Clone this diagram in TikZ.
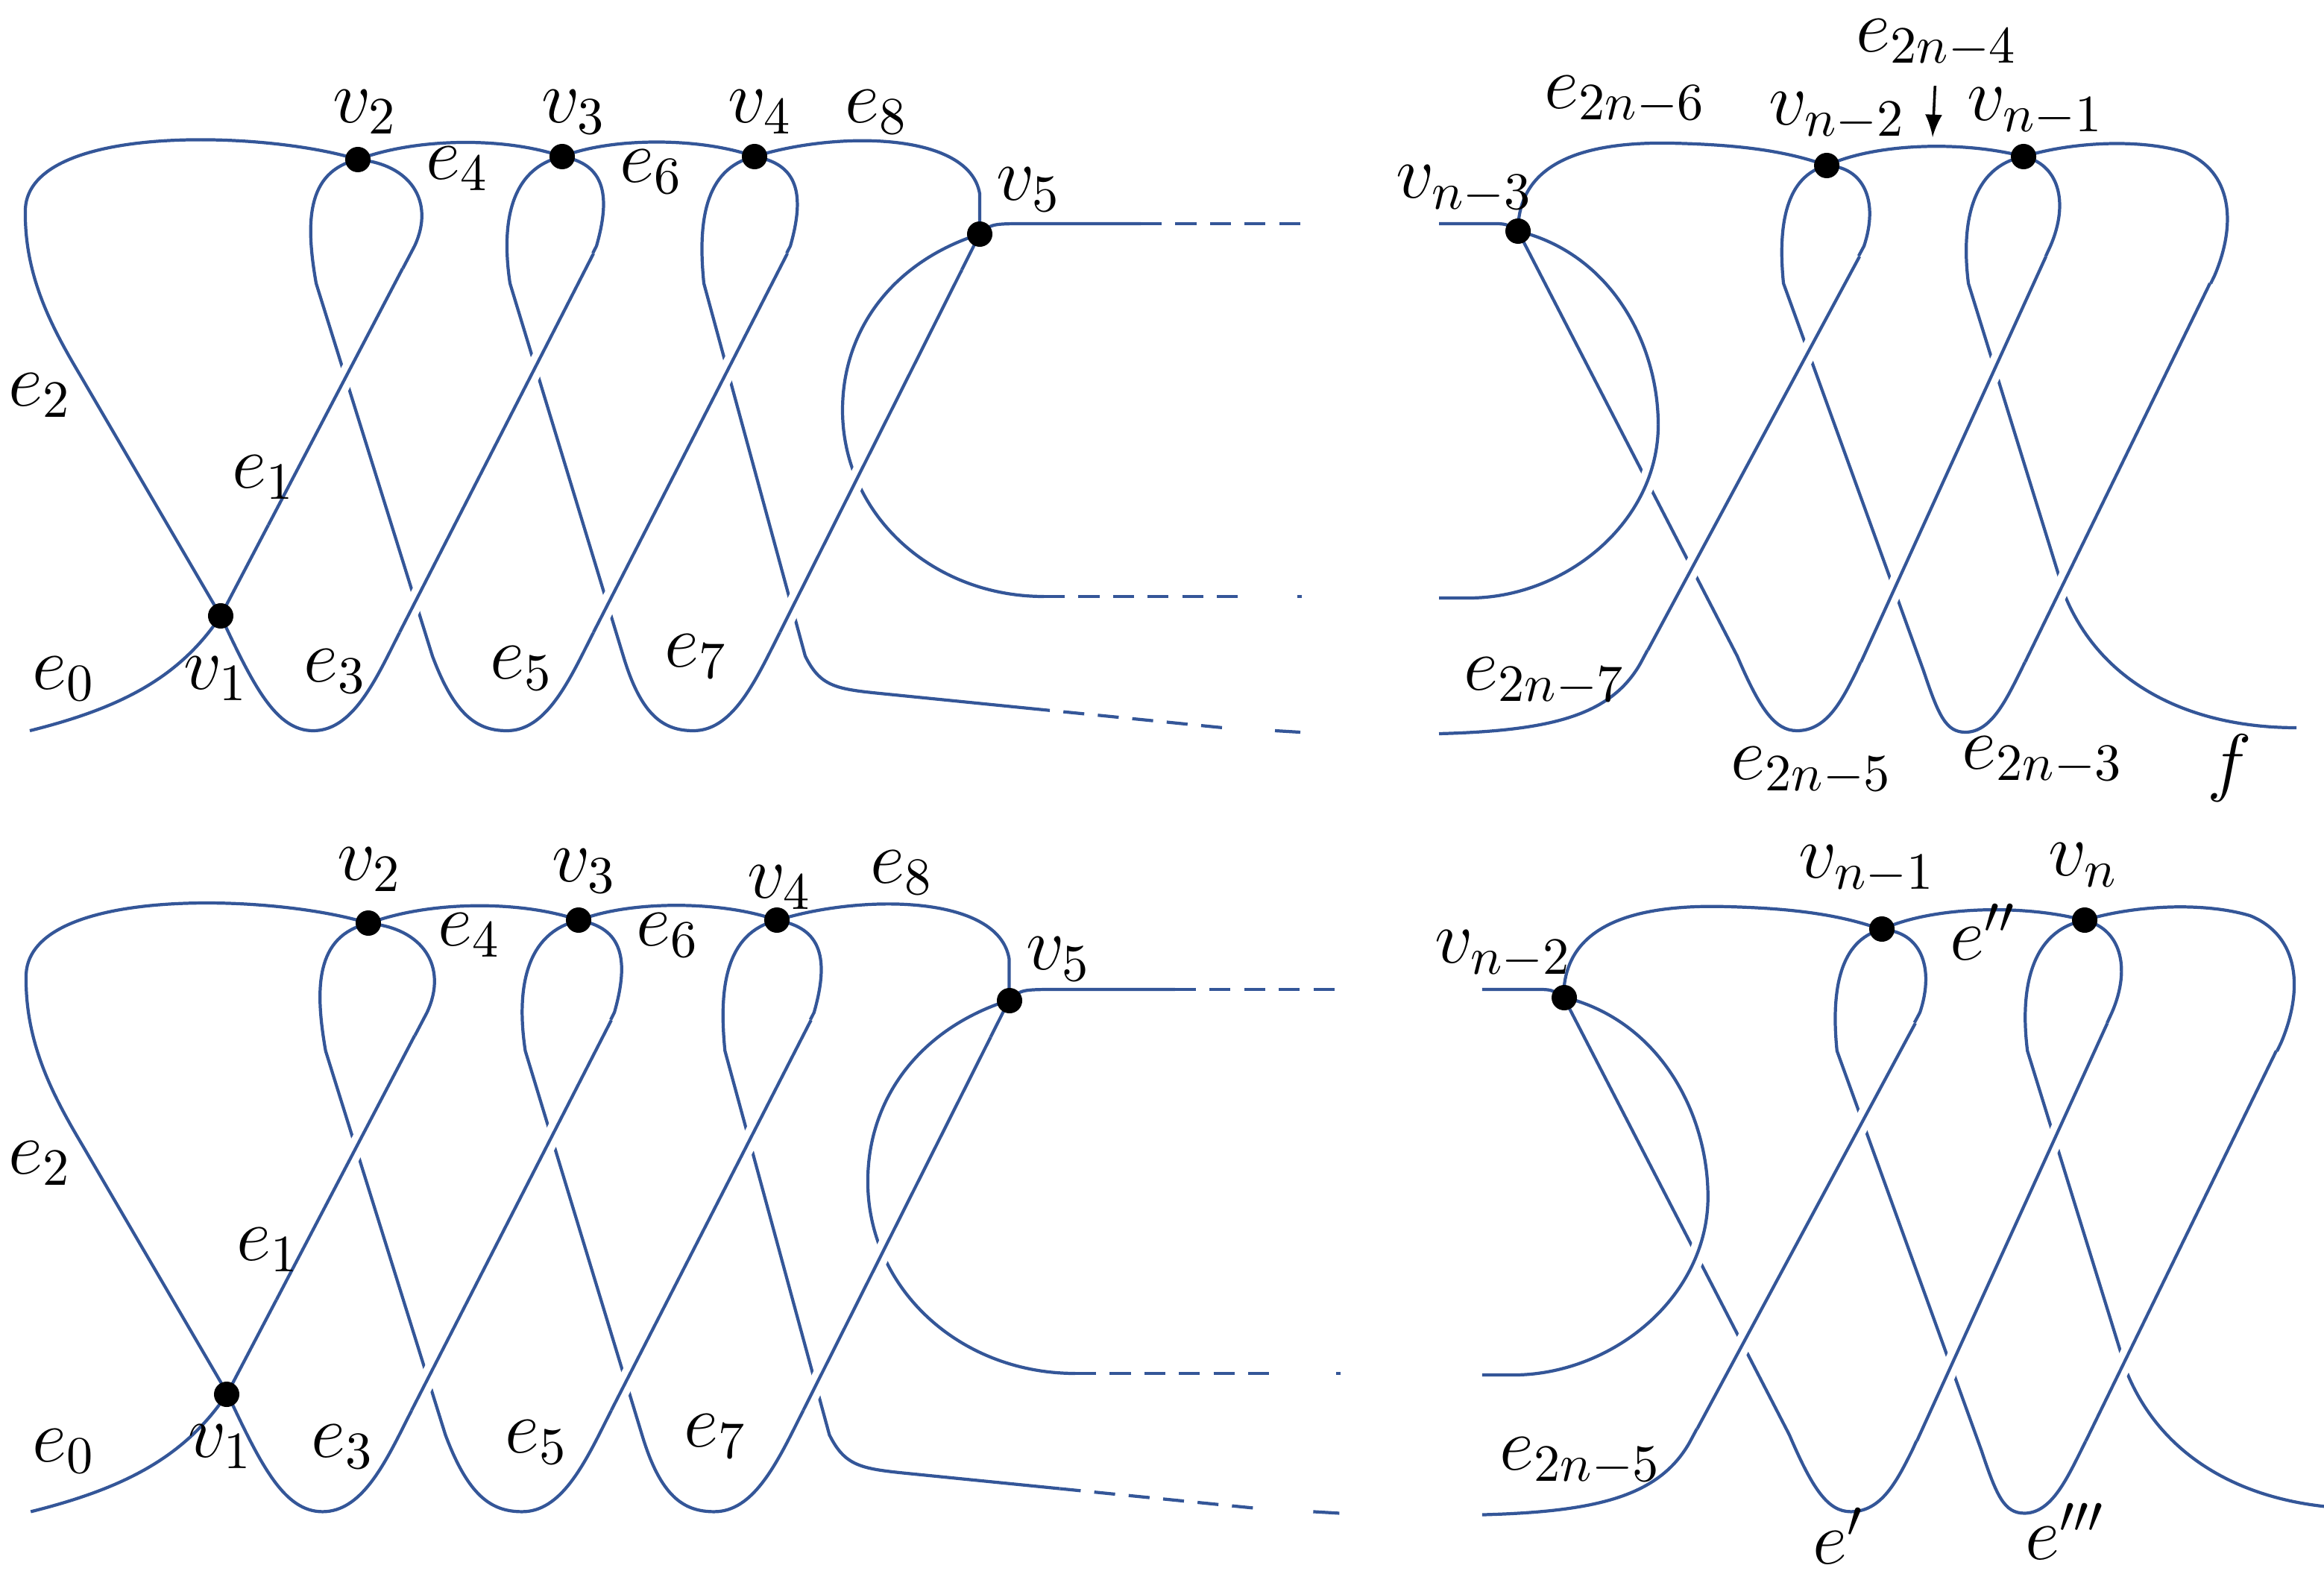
\documentclass[tikz,border=0pt]{standalone}
\usepackage{amsmath}
\usepackage{tikz}
\definecolor{knotblue}{RGB}{52,86,152}
\tikzset{
  strand/.style={knotblue,line width=0.6pt},
  over/.style={strand,preaction={draw,white,line width=3.2pt}},
  dashstrand/.style={strand,dash pattern=on 4pt off 2.6pt},
  vtx/.style={circle,fill=black,inner sep=0pt,minimum size=0.17cm},
  lab/.style={font=\Large}
}
% left half of the diagram, in 1/100 cm units
\newcommand{\leftknot}{%
\draw[strand] (20,490) .. controls (80,475) and (120,455) .. (148,413) -- (278,165)
   .. controls (292,135) and (275,110) .. (240,107); %% e0 e1
\draw[strand] (240,107) .. controls (180,88) and (20,82) .. (17,140)
   .. controls (16,185) and (35,220) .. (54,252) -- (148,413); %% e2
\draw[strand] (148,413) .. controls (170,460) and (185,490) .. (210,490)
   .. controls (235,490) and (250,460) .. (265,430) -- (400,165)
   .. controls (410,130) and (405,110) .. (377,105); %% e3
\draw[strand] (377,105) .. controls (340,92) and (280,92) .. (240,107); %% e4
\draw[strand] (240,107) .. controls (205,115) and (205,150) .. (212,190) -- (290,440)
   .. controls (305,480) and (320,490) .. (340,490)
   .. controls (365,490) and (380,460) .. (395,430) -- (530,165)
   .. controls (540,130) and (535,110) .. (506,105); %% e5
\draw[strand] (506,105) .. controls (470,92) and (410,92) .. (377,105); %% e6
\draw[strand] (377,105) .. controls (342,113) and (336,150) .. (342,190) -- (418,440)
   .. controls (430,480) and (445,490) .. (465,490)
   .. controls (490,490) and (505,460) .. (520,430) -- (657,157); %% e7
\draw[strand] (506,105) .. controls (560,88) and (650,88) .. (657,130) -- (657,157); %% e8
\draw[strand] (506,105) .. controls (472,113) and (468,150) .. (472,190) -- (540,440)
   .. controls (550,460) and (560,462) .. (590,465) -- (690,475);
\draw[dashstrand] (690,475) -- (820,488);
\draw[strand] (855,490) -- (872,491);
\draw[strand] (657,157) .. controls (600,175) and (565,220) .. (565,275)
   .. controls (565,345) and (625,400) .. (700,400); %% circle
\draw[dashstrand] (700,400) -- (830,400);
\draw[strand] (870,400) -- (873,400);
\draw[strand] (657,157) .. controls (665,150) .. (690,150) -- (765,150);
\draw[dashstrand] (765,150) -- (872,150);
%% crossings
\draw[over] (180,352) -- (270,180);
\draw[over] (268,424) -- (398,170);
\draw[over] (398,424) -- (528,170);
\draw[over] (523,424) -- (645,181);
}
% right half of the diagram
\newcommand{\rightknot}{%
\draw[strand] (965,150) -- (1000,150) .. controls (1010,150) .. (1018,155);
\draw[strand] (1018,155) .. controls (1018,110) and (1060,95) .. (1120,96)
   .. controls (1170,97) and (1200,102) .. (1225,111);
\draw[strand] (1018,155) -- (1165,440) .. controls (1180,475) and (1190,490) .. (1205,490)
   .. controls (1225,490) and (1235,470) .. (1245,450) -- (1375,165)
   .. controls (1388,135) and (1380,110) .. (1357,105);
\draw[strand] (965,492) .. controls (1040,490) and (1080,480) .. (1100,445) -- (1250,165)
   .. controls (1260,135) and (1250,112) .. (1225,111);
\draw[strand] (1225,111) .. controls (1198,118) and (1192,150) .. (1196,190) -- (1290,450)
   .. controls (1300,480) and (1305,491) .. (1318,491)
   .. controls (1335,491) and (1345,470) .. (1355,450) -- (1485,185)
   .. controls (1500,150) and (1497,115) .. (1465,102)
   .. controls (1435,93) and (1390,95) .. (1357,105);
\draw[strand] (1225,111) .. controls (1260,95) and (1320,95) .. (1357,105);
\draw[strand] (1357,105) .. controls (1322,112) and (1315,150) .. (1320,190) -- (1385,400)
   .. controls (1410,460) and (1470,488) .. (1540,488);
\draw[strand] (1018,155) .. controls (1080,170) and (1112,230) .. (1112,285);
\draw[over] (1112,285) .. controls (1112,350) and (1050,401) .. (985,401) -- (965,401);
%% crossings
\draw[over] (1248,444) -- (1372,172);
\draw[over] (1105,436) -- (1247,172);
\draw[over] (1358,444) -- (1482,190);
}

\begin{document}
\begin{tikzpicture}[x=0.01cm,y=-0.01cm]
\useasboundingbox (0,0) rectangle (1558.5,1055);
%% top row
\leftknot
\rightknot
\node[vtx] (tv1) at (148,413) {};
\node[vtx] (tv2) at (240,107) {};
\node[vtx] (tv3) at (377,105) {};
\node[vtx] (tv4) at (506,105) {};
\node[vtx] (tv5) at (657,157) {};
\node[vtx] (tw3) at (1018,155) {};
\node[vtx] (tw2) at (1225,111) {};
\node[vtx] (tw1) at (1357,105) {};
\node[lab] (lv2) at (245,75) {$v_2$};
\node[lab] (lv3) at (385,75) {$v_3$};
\node[lab] (lv4) at (510,75) {$v_4$};
\node[lab] (le8) at (588,75) {$e_8$};
\node[lab] (le4) at (307,113) {$e_4$};
\node[lab] (le6) at (437,115) {$e_6$};
\node[lab] (lv5) at (690,127) {$v_5$};
\node[lab] (le2) at (27,265) {$e_2$};
\node[lab] (le1) at (177,320) {$e_1$};
\node[lab] (le0) at (43,455) {$e_0$};
\node[lab] (lv1) at (145,455) {$v_1$};
\node[lab] (le3) at (225,450) {$e_3$};
\node[lab] (le5) at (350,448) {$e_5$};
\node[lab] (le7) at (467,440) {$e_7$};
\node[lab] (lf4) at (1299,29) {$e_{2n-4}$};
\node[lab] (lf6) at (1090,67) {$e_{2n-6}$};
\node[lab] (lw2) at (1232,78) {$v_{n-2}$};
\node[lab] (lw1) at (1365,75) {$v_{n-1}$};
\node[lab] (lw3) at (982,127) {$v_{n-3}$};
\node[lab] (lf7) at (1036,457) {$e_{2n-7}$};
\node[lab] (lf5) at (1215,517) {$e_{2n-5}$};
\node[lab] (lf3) at (1370,510) {$e_{2n-3}$};
\node[lab] (lf) at (1495,515) {$f$};
\coordinate (tip) at (1296,92);
\draw[-latex,line width=0.5pt] (lf4) -- (tip);
%% bottom row
\begin{scope}[shift={(0,509)},scale=1.03]
\leftknot
\rightknot
\end{scope}
\node[vtx] (bv1) at (152,935) {};
\node[vtx] (bv2) at (247,619) {};
\node[vtx] (bv3) at (388,617) {};
\node[vtx] (bv4) at (521,617) {};
\node[vtx] (bv5) at (677,671) {};
\node[vtx] (bw3) at (1049,669) {};
\node[vtx] (bw2) at (1262,623) {};
\node[vtx] (bw1) at (1398,617) {};
\node[lab] (mv2) at (248,583) {$v_2$};
\node[lab] (mv3) at (392,584) {$v_3$};
\node[lab] (mv4) at (523,595) {$v_4$};
\node[lab] (me8) at (605,585) {$e_8$};
\node[lab] (me4) at (315,627) {$e_4$};
\node[lab] (me6) at (448,627) {$e_6$};
\node[lab] (mv5) at (710,643) {$v_5$};
\node[lab] (me2) at (27,780) {$e_2$};
\node[lab] (me1) at (180,838) {$e_1$};
\node[lab] (me0) at (43,973) {$e_0$};
\node[lab] (mv1) at (148,970) {$v_1$};
\node[lab] (me3) at (230,970) {$e_3$};
\node[lab] (me5) at (360,967) {$e_5$};
\node[lab] (me7) at (480,963) {$e_7$};
\node[lab] (mw2) at (1252,583) {$v_{n-1}$};
\node[lab] (mw1) at (1397,580) {$v_n$};
\node[lab] (mw3) at (1008,640) {$v_{n-2}$};
\node[lab] (mg2) at (1330,625) {$e''$};
\node[lab] (mf5) at (1060,980) {$e_{2n-5}$};
\node[lab] (mg1) at (1233,1030) {$e'$};
\node[lab] (mg3) at (1385,1027) {$e'''$};
\end{tikzpicture}
\end{document}
